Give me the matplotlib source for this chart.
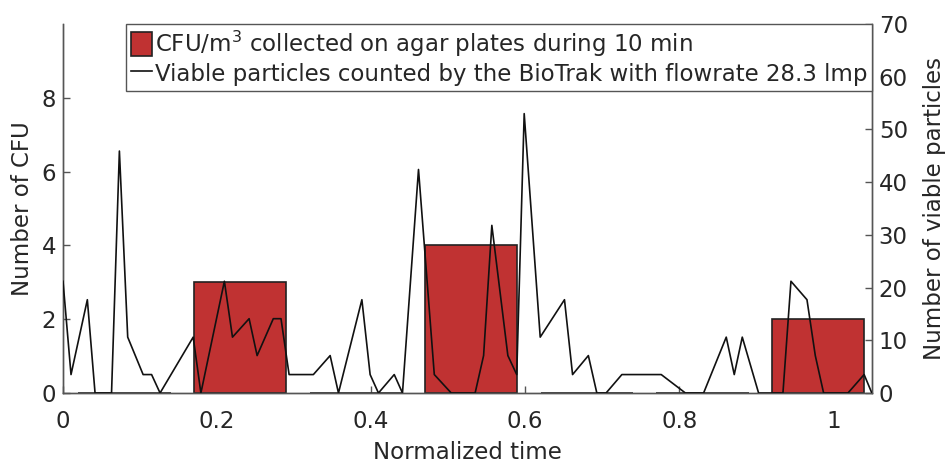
import matplotlib
matplotlib.use('Agg')
import matplotlib.pyplot as plt
from matplotlib.ticker import FuncFormatter

plt.rcParams['font.family'] = ['DejaVu Sans']
plt.rcParams['mathtext.fontset'] = 'dejavusans'

TEXT = '#262626'
AXIS = '#555555'

# agar plates (10 min each)
bar_centers = [0.08, 0.23, 0.38, 0.53, 0.68, 0.83, 0.98]
cfu_counts = [0, 3, 0, 4, 0, 0, 2]

# BioTrak viable particles
time_pts = [0, 0.0104, 0.0316, 0.0416, 0.063, 0.0732, 0.084, 0.104, 0.115, 0.126,
            0.169, 0.179, 0.2095, 0.220, 0.2416, 0.252, 0.273, 0.283, 0.2935, 0.325,
            0.3468, 0.3576, 0.388, 0.3987, 0.4095, 0.430, 0.4407, 0.4615, 0.482, 0.504,
            0.535, 0.546, 0.5567, 0.5775, 0.589, 0.5987, 0.6195, 0.651, 0.6615, 0.682,
            0.693, 0.705, 0.7255, 0.7766, 0.808, 0.8316, 0.861, 0.8714, 0.8818, 0.903,
            0.9346, 0.945, 0.9658, 0.9766, 0.9874, 1.019, 1.040, 1.050]
viable = [21.2, 3.5, 17.7, 0, 0, 45.9, 10.6, 3.5, 3.5, 0,
          10.6, 0, 21.2, 10.6, 14.1, 7.1, 14.1, 14.1, 3.5, 3.5,
          7.1, 0, 17.7, 3.5, 0, 3.5, 0, 42.4, 3.5, 0,
          0, 7.1, 31.8, 7.1, 3.5, 53.0, 10.6, 17.7, 3.5, 7.1,
          0, 0, 3.5, 3.5, 0, 0, 10.6, 3.5, 10.6, 0,
          0, 21.2, 17.7, 7.1, 0, 0, 3.5, 0]

fig = plt.figure(figsize=(9.46, 4.65), dpi=100)
ax = fig.add_axes([0.0666, 0.1548, 0.855, 0.7936])
ax2 = ax.twinx()

bars = ax.bar(bar_centers, cfu_counts, width=0.12, color='#C03232',
              edgecolor='#222222', linewidth=1.2, zorder=2)
line, = ax2.plot(time_pts, viable, color='#111111', linewidth=1.2, zorder=3)

ax.set_xlim(0, 1.05)
ax.set_ylim(0, 10)
ax2.set_ylim(0, 70)
ax.set_xticks([0, 0.2, 0.4, 0.6, 0.8, 1])
ax.xaxis.set_major_formatter(FuncFormatter(lambda v, p: f'{v:g}'))
ax.set_yticks([0, 2, 4, 6, 8])
ax2.set_yticks(range(0, 71, 10))

for a in (ax, ax2):
    a.spines['top'].set_visible(False)
    for s in ('left', 'right', 'bottom'):
        a.spines[s].set_color(AXIS)
        a.spines[s].set_linewidth(1.0)
    a.tick_params(direction='in', length=5, width=1.0, colors=AXIS,
                  labelcolor=TEXT, labelsize=16.5)
ax.tick_params(axis='x', pad=12)
ax.tick_params(axis='y', pad=5)
ax2.tick_params(axis='y', pad=5)

ax.set_xlabel('Normalized time', fontsize=16.5, color=TEXT, labelpad=6)
ax.set_ylabel('Number of CFU', fontsize=16.5, color=TEXT, labelpad=5)
ax2.set_ylabel('Number of viable particles', fontsize=16.5, color=TEXT, labelpad=11)

leg = ax2.legend([bars, line],
                 ['CFU/m$^3$ collected on agar plates during 10 min',
                  'Viable particles counted by the BioTrak with flowrate 28.3 lmp'],
                 loc='upper right', bbox_to_anchor=(1, 1), borderaxespad=0,
                 fancybox=False, framealpha=1, edgecolor=AXIS, fontsize=16.5,
                 handlelength=0.95, handleheight=1.3, handletextpad=0.1,
                 labelspacing=0.1, borderpad=0.2)
leg.get_frame().set_linewidth(1.0)
for t in leg.get_texts():
    t.set_color(TEXT)

fig.savefig('out.png', dpi=100)
